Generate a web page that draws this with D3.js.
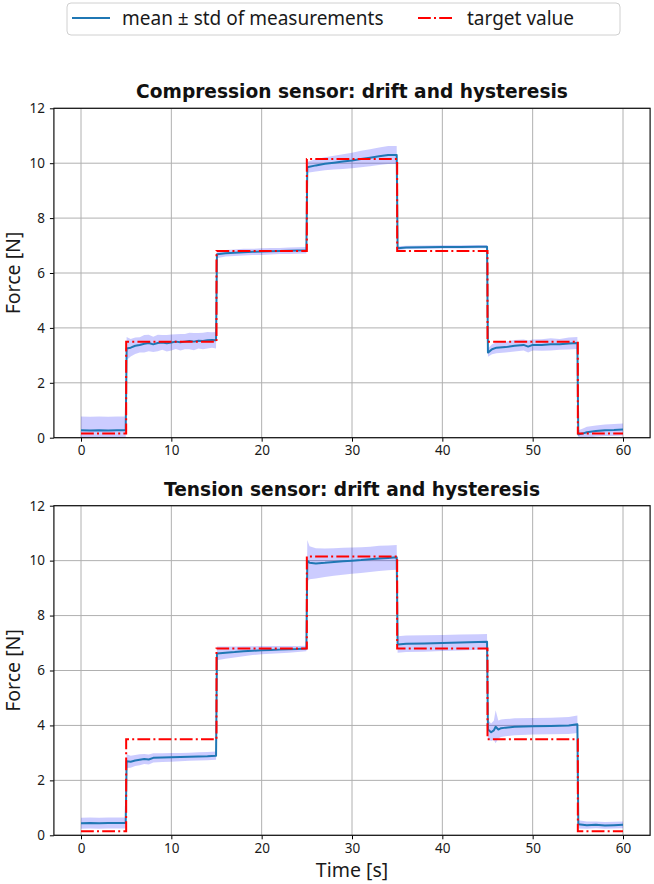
<!DOCTYPE html>
<html>
<head>
<meta charset="utf-8">
<script src="https://cdn.jsdelivr.net/npm/d3@7"></script>
<style>
body { margin: 0; background: #fff; }
svg { display: block; }
.tick text { font-family: "Noto Sans", sans-serif; font-size: 13.5px; fill: #1a1a1a; }
</style>
</head>
<body>
<svg width="654" height="884"></svg>
<script>
/**********************
* data
**********************/
var stepTimes = [0, 5, 15, 25, 35, 45, 55, 60]
var targetVals = [0.15, 3.5, 6.8, 10.15, 6.8, 3.5, 0.15, 0.15]

var xTicks = [0, 10, 20, 30, 40, 50, 60]
var yTicks = [0, 2, 4, 6, 8, 10, 12]

// compression sensor
var compTime = [0, 1, 2, 3, 4, 4.95,
    5.05, 5.5, 6, 6.5, 7, 7.5, 8, 8.5, 9, 9.5, 10, 10.5, 11, 11.5, 12, 12.5, 13, 13.5, 14, 14.5, 14.95,
    15.05, 16, 17, 18, 19, 20, 21, 22, 23, 24, 24.95,
    25.05, 26, 27, 28, 29, 30, 31, 32, 33, 34, 34.95,
    35.05, 36, 38, 40, 42, 44, 44.95,
    45.05, 45.5, 46, 47, 48, 49, 49.5, 50, 51, 52, 53, 54, 54.95,
    55.05, 55.5, 56, 57, 58, 59, 60]
var compMean = [0.27, 0.26, 0.27, 0.26, 0.27, 0.27,
    3.25, 3.28, 3.35, 3.38, 3.42, 3.45, 3.40, 3.45, 3.47, 3.44, 3.47, 3.50, 3.48, 3.50, 3.52, 3.50, 3.53, 3.52, 3.55, 3.56, 3.55,
    6.68, 6.72, 6.74, 6.76, 6.77, 6.78, 6.79, 6.80, 6.81, 6.82, 6.83,
    9.85, 9.92, 9.98, 10.02, 10.06, 10.10, 10.15, 10.20, 10.25, 10.30, 10.30,
    6.90, 6.93, 6.94, 6.95, 6.95, 6.96, 6.96,
    3.10, 3.22, 3.28, 3.30, 3.35, 3.38, 3.32, 3.38, 3.38, 3.40, 3.40, 3.43, 3.45,
    0.12, 0.15, 0.20, 0.24, 0.27, 0.28, 0.30]
var compStd = [0.50, 0.50, 0.50, 0.50, 0.50, 0.50,
    0.42, 0.32, 0.30, 0.28, 0.32, 0.30, 0.28, 0.30, 0.27, 0.30, 0.29, 0.27, 0.30, 0.28, 0.30, 0.31, 0.28, 0.30, 0.30, 0.28, 0.30,
    0.14, 0.12, 0.12, 0.12, 0.11, 0.12, 0.12, 0.11, 0.12, 0.12, 0.12,
    0.20, 0.22, 0.24, 0.25, 0.27, 0.28, 0.30, 0.31, 0.32, 0.33, 0.33,
    0.07, 0.06, 0.06, 0.06, 0.06, 0.06, 0.06,
    0.15, 0.18, 0.20, 0.20, 0.21, 0.20, 0.22, 0.20, 0.21, 0.22, 0.20, 0.22, 0.22,
    0.15, 0.18, 0.20, 0.20, 0.21, 0.22, 0.22]

// tension sensor
var tensTime = [0, 1, 2, 3, 4, 4.95,
    5.05, 5.5, 6, 6.5, 7, 7.5, 8, 9, 10, 11, 12, 13, 14, 14.95,
    15.05, 16, 17, 18, 19, 20, 21, 22, 23, 24, 24.95,
    25.05, 25.3, 26, 27, 28, 29, 30, 31, 32, 33, 34, 34.95,
    35.05, 36, 38, 40, 42, 44, 44.95,
    45.05, 45.4, 45.7, 45.9, 46.2, 46.5, 47, 48, 50, 52, 54, 54.95,
    55.05, 56, 57, 58, 59, 60]
var tensMean = [0.44, 0.45, 0.44, 0.45, 0.45, 0.45,
    2.70, 2.68, 2.72, 2.75, 2.78, 2.76, 2.82, 2.83, 2.84, 2.85, 2.86, 2.87, 2.88, 2.90,
    6.62, 6.65, 6.67, 6.70, 6.72, 6.74, 6.75, 6.76, 6.77, 6.78, 6.80,
    10.00, 9.92, 9.90, 9.92, 9.95, 9.98, 10.00, 10.02, 10.05, 10.08, 10.10, 10.12,
    6.95, 6.97, 6.98, 7.00, 7.02, 7.04, 7.05,
    3.85, 3.75, 3.82, 3.95, 3.85, 3.90, 3.92, 3.95, 3.97, 3.98, 4.00, 4.04,
    0.40, 0.37, 0.38, 0.36, 0.37, 0.38]
var tensStd = [0.20, 0.20, 0.20, 0.20, 0.20, 0.20,
    0.25, 0.22, 0.20, 0.20, 0.18, 0.18, 0.17, 0.16, 0.16, 0.15, 0.15, 0.15, 0.15, 0.15,
    0.25, 0.22, 0.20, 0.18, 0.16, 0.15, 0.14, 0.13, 0.12, 0.11, 0.10,
    0.75, 0.60, 0.55, 0.52, 0.50, 0.49, 0.48, 0.47, 0.46, 0.46, 0.45, 0.45,
    0.30, 0.30, 0.30, 0.29, 0.29, 0.28, 0.28,
    0.35, 0.32, 0.35, 0.60, 0.33, 0.32, 0.31, 0.31, 0.30, 0.30, 0.31, 0.32,
    0.15, 0.13, 0.12, 0.12, 0.12, 0.12]

var panels = [
    {title: "Compression sensor: drift and hysteresis", time: compTime, mean: compMean, std: compStd, top: 108.3, bottom: 437.7, xlabel: false},
    {title: "Tension sensor: drift and hysteresis", time: tensTime, mean: tensMean, std: tensStd, top: 505.7, bottom: 835.3, xlabel: true}
]

/**********************
* layout
**********************/
var plot_left = 53.9
var plot_right = 650.1

var svg = d3.select("svg")

var x = d3.scaleLinear().domain([-3, 63]).range([plot_left, plot_right])

/**********************
* draw one panel
**********************/
function display_panel(p, idx) {
    var y = d3.scaleLinear().domain([0, 12]).range([p.bottom, p.top])
    var g = svg.append("g").attr("class", "panel" + idx)

    g.append("clipPath")
        .attr("id", "clip" + idx)
        .append("rect")
        .attr("x", plot_left)
        .attr("y", p.top)
        .attr("width", plot_right - plot_left)
        .attr("height", p.bottom - p.top)

    /* grid */
    g.append("g")
        .selectAll("line")
        .data(xTicks)
        .enter()
        .append("line")
        .attr("x1", d => x(d)).attr("x2", d => x(d))
        .attr("y1", p.top).attr("y2", p.bottom)
        .attr("stroke", "#b0b0b0").attr("stroke-width", 1)

    g.append("g")
        .selectAll("line")
        .data(yTicks)
        .enter()
        .append("line")
        .attr("x1", plot_left).attr("x2", plot_right)
        .attr("y1", d => y(d)).attr("y2", d => y(d))
        .attr("stroke", "#b0b0b0").attr("stroke-width", 1)

    var pts = p.time.map((t, i) => ({t: t, m: p.mean[i], s: p.std[i]}))

    var plotArea = g.append("g").attr("clip-path", "url(#clip" + idx + ")")

    /* std band */
    plotArea.append("path")
        .datum(pts)
        .attr("fill", "blue")
        .attr("fill-opacity", 0.2)
        .attr("d", d3.area()
            .x(d => x(d.t))
            .y0(d => y(d.m - d.s))
            .y1(d => y(d.m + d.s)))

    /* mean line */
    plotArea.append("path")
        .datum(pts)
        .attr("fill", "none")
        .attr("stroke", "#1f77b4")
        .attr("stroke-width", 2)
        .attr("stroke-linejoin", "round")
        .attr("d", d3.line().x(d => x(d.t)).y(d => y(d.m)))

    /* target value */
    var target = stepTimes.map((t, i) => ({t: t, v: targetVals[i]}))
    plotArea.append("path")
        .datum(target)
        .attr("fill", "none")
        .attr("stroke", "red")
        .attr("stroke-width", 2)
        .attr("stroke-dasharray", "12.8,3.2,2,3.2")
        .attr("d", d3.line().curve(d3.curveStepAfter).x(d => x(d.t)).y(d => y(d.v)))

    /* axes */
    g.append("g")
        .attr("transform", "translate(0," + p.bottom + ")")
        .call(d3.axisBottom(x).tickValues(xTicks).tickSize(4).tickPadding(4))
        .call(a => a.select(".domain").remove())

    g.append("g")
        .attr("transform", "translate(" + plot_left + ",0)")
        .call(d3.axisLeft(y).tickValues(yTicks).tickSize(4).tickPadding(5))
        .call(a => a.select(".domain").remove())

    /* frame */
    g.append("rect")
        .attr("x", plot_left).attr("y", p.top)
        .attr("width", plot_right - plot_left)
        .attr("height", p.bottom - p.top)
        .attr("fill", "none").attr("stroke", "#111").attr("stroke-width", 1.2)

    /* title */
    g.append("text")
        .text(p.title)
        .attr("x", (plot_left + plot_right) / 2)
        .attr("y", p.top - 10)
        .attr("text-anchor", "middle")
        .attr("font-family", "DejaVu Sans")
        .attr("font-weight", "bold")
        .attr("font-size", 18.6)
        .attr("fill", "#111")

    /* y label */
    g.append("text")
        .text("Force [N]")
        .attr("transform", "translate(20," + (p.top + p.bottom) / 2 + ") rotate(-90)")
        .attr("text-anchor", "middle")
        .attr("font-family", "Noto Sans")
        .attr("font-size", 19.5)
        .attr("fill", "#1a1a1a")

    if (p.xlabel) {
        g.append("text")
            .text("Time [s]")
            .attr("x", (plot_left + plot_right) / 2)
            .attr("y", 877)
            .attr("text-anchor", "middle")
            .attr("font-family", "Noto Sans")
            .attr("font-size", 19.5)
            .attr("fill", "#1a1a1a")
    }
}

/**********************
* legend
**********************/
function display_legend() {
    var lg = svg.append("g").attr("class", "legend")
    lg.append("rect")
        .attr("x", 67).attr("y", 3)
        .attr("width", 553).attr("height", 32)
        .attr("rx", 4)
        .attr("fill", "#fff")
        .attr("stroke", "#d0d0d0")

    lg.append("line")
        .attr("x1", 72).attr("x2", 110).attr("y1", 18).attr("y2", 18)
        .attr("stroke", "#1f77b4").attr("stroke-width", 2)
    lg.append("text")
        .text("mean ± std of measurements")
        .attr("x", 122).attr("y", 25)
        .attr("font-family", "Noto Sans").attr("font-size", 19).attr("fill", "#1a1a1a")

    lg.append("line")
        .attr("x1", 418).attr("x2", 452).attr("y1", 18).attr("y2", 18)
        .attr("stroke", "red").attr("stroke-width", 2)
        .attr("stroke-dasharray", "12.8,3.2,2,3.2")
    lg.append("text")
        .text("target value")
        .attr("x", 467).attr("y", 25)
        .attr("font-family", "Noto Sans").attr("font-size", 19).attr("fill", "#1a1a1a")
}

panels.forEach(display_panel)
display_legend()
</script>
</body>
</html>
